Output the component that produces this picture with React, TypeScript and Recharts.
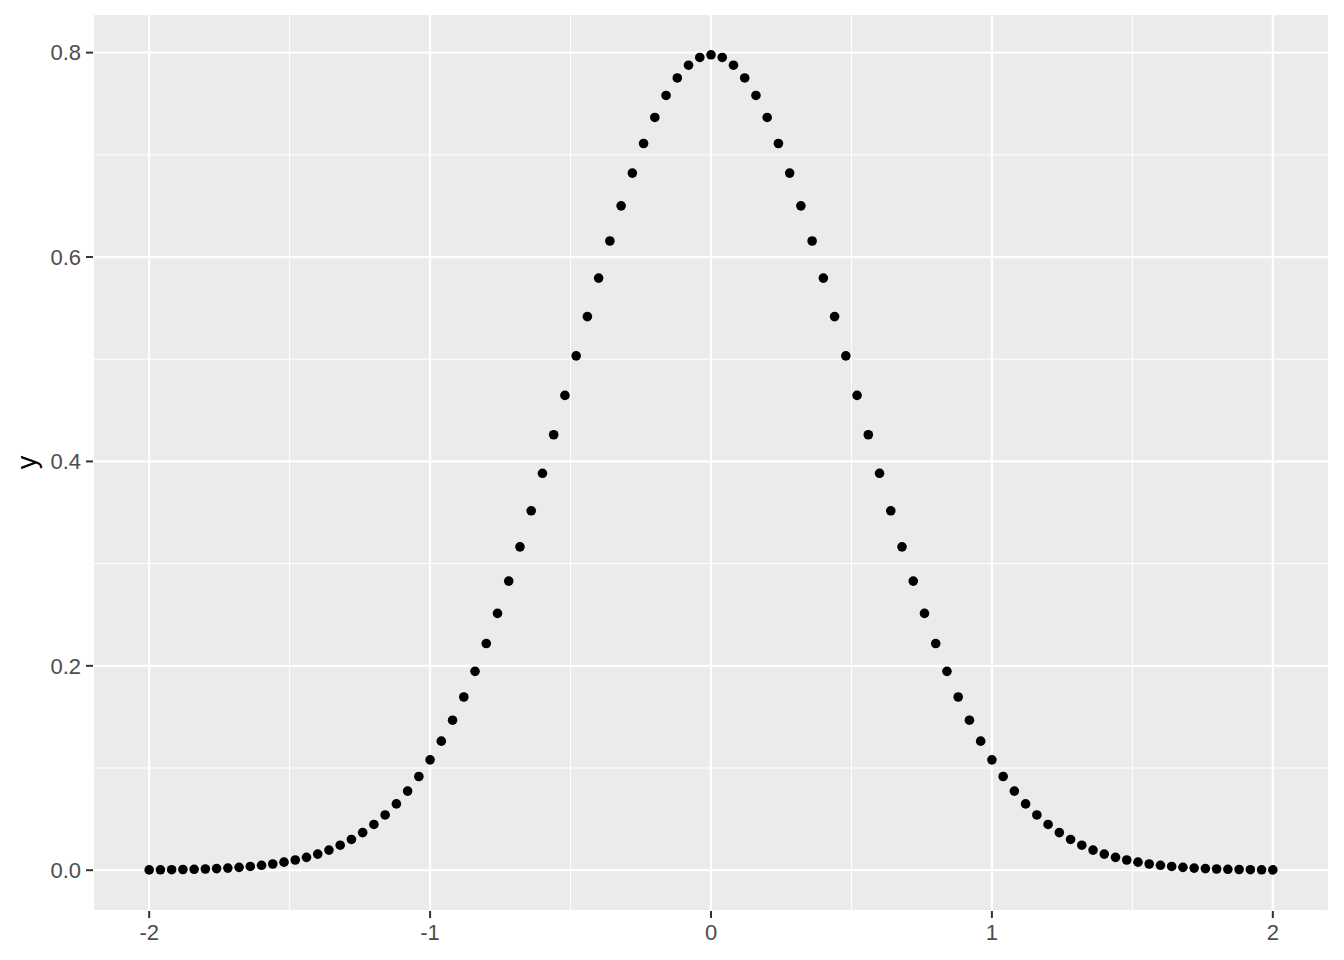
import { ScatterChart, Scatter, XAxis, YAxis, CartesianGrid } from "recharts";

// x positions of the dots (step 0.04 from -2 to 2)
const xValues = [
  -2, -1.96, -1.92, -1.88, -1.84, -1.8, -1.76, -1.72, -1.68, -1.64,
  -1.6, -1.56, -1.52, -1.48, -1.44, -1.4, -1.36, -1.32, -1.28, -1.24,
  -1.2, -1.16, -1.12, -1.08, -1.04, -1, -0.96, -0.92, -0.88, -0.84,
  -0.8, -0.76, -0.72, -0.68, -0.64, -0.6, -0.56, -0.52, -0.48, -0.44,
  -0.4, -0.36, -0.32, -0.28, -0.24, -0.2, -0.16, -0.12, -0.08, -0.04,
  0,
  0.04, 0.08, 0.12, 0.16, 0.2, 0.24, 0.28, 0.32, 0.36, 0.4,
  0.44, 0.48, 0.52, 0.56, 0.6, 0.64, 0.68, 0.72, 0.76, 0.8,
  0.84, 0.88, 0.92, 0.96, 1, 1.04, 1.08, 1.12, 1.16, 1.2,
  1.24, 1.28, 1.32, 1.36, 1.4, 1.44, 1.48, 1.52, 1.56, 1.6,
  1.64, 1.68, 1.72, 1.76, 1.8, 1.84, 1.88, 1.92, 1.96, 2,
];

const yValues = [
  0.0003, 0.0004, 0.0005, 0.0007, 0.0009, 0.0012, 0.0016, 0.0021, 0.0028, 0.0037,
  0.0048, 0.0061, 0.0079, 0.01, 0.0126, 0.0158, 0.0197, 0.0245, 0.0301, 0.0368,
  0.0448, 0.0541, 0.0649, 0.0774, 0.0917, 0.108, 0.1263, 0.1468, 0.1695, 0.1946,
  0.2218, 0.2513, 0.2829, 0.3164, 0.3517, 0.3884, 0.4261, 0.4646, 0.5033, 0.5417,
  0.5794, 0.6157, 0.6501, 0.6821, 0.7111, 0.7366, 0.7581, 0.7752, 0.7877, 0.7953,
  0.7979,
  0.7953, 0.7877, 0.7752, 0.7581, 0.7366, 0.7111, 0.6821, 0.6501, 0.6157, 0.5794,
  0.5417, 0.5033, 0.4646, 0.4261, 0.3884, 0.3517, 0.3164, 0.2829, 0.2513, 0.2218,
  0.1946, 0.1695, 0.1468, 0.1263, 0.108, 0.0917, 0.0774, 0.0649, 0.0541, 0.0448,
  0.0368, 0.0301, 0.0245, 0.0197, 0.0158, 0.0126, 0.01, 0.0079, 0.0061, 0.0048,
  0.0037, 0.0028, 0.0021, 0.0016, 0.0012, 0.0009, 0.0007, 0.0005, 0.0004, 0.0003,
];

const xTicks = [-2, -1, 0, 1, 2];
const xMinor = [-1.5, -0.5, 0.5, 1.5];
const yTicks = [0, 0.2, 0.4, 0.6, 0.8];
const yMinor = [0.1, 0.3, 0.5, 0.7];

const data = xValues.map((x, i) => ({ x, y: yValues[i] }));

const font = "'Liberation Sans', Arial, sans-serif";
const tickStyle = { fill: "#4d4d4d", fontSize: 22, fontFamily: font };

export default function App() {
  return (
    <div style={{ position: "absolute", left: 0, top: 0, background: "#fff" }}>
      <ScatterChart
        width={1344}
        height={960}
        margin={{ top: 14, right: 15, left: 0, bottom: 0 }}
      >
        <CartesianGrid
          fill="#ebebeb"
          fillOpacity={1}
          stroke="#ffffff"
          strokeWidth={1}
          verticalValues={xMinor}
          horizontalValues={yMinor}
        />
        <CartesianGrid stroke="#ffffff" strokeWidth={2.2} />
        <XAxis
          type="number"
          dataKey="x"
          domain={[-2.2, 2.2]}
          ticks={xTicks}
          allowDataOverflow
          height={49}
          axisLine={false}
          tickSize={7}
          tickMargin={6}
          fontSize={22}
          fontFamily={font}
          tickLine={{ stroke: "#333333", strokeWidth: 2 }}
          tick={tickStyle}
        />
        <YAxis
          type="number"
          dataKey="y"
          domain={[-0.0399, 0.8378]}
          ticks={yTicks}
          allowDataOverflow
          width={93}
          axisLine={false}
          tickSize={7}
          tickMargin={5}
          fontSize={22}
          fontFamily={font}
          tickLine={{ stroke: "#333333", strokeWidth: 2 }}
          tick={tickStyle}
          tickFormatter={(v: number) => v.toFixed(1)}
          label={{
            content: ({ viewBox }: any) => {
              const cy = viewBox.y + viewBox.height / 2;
              return (
                <text
                  x={36}
                  y={cy}
                  transform={`rotate(-90, 36, ${cy})`}
                  textAnchor="middle"
                  fontSize={27}
                  fontFamily={font}
                  fill="#000"
                >
                  y
                </text>
              );
            },
          }}
        />
        <Scatter
          data={data}
          isAnimationActive={false}
          shape={(p: any) => <circle cx={p.cx} cy={p.cy} r={4.8} fill="#000" />}
        />
      </ScatterChart>
    </div>
  );
}
